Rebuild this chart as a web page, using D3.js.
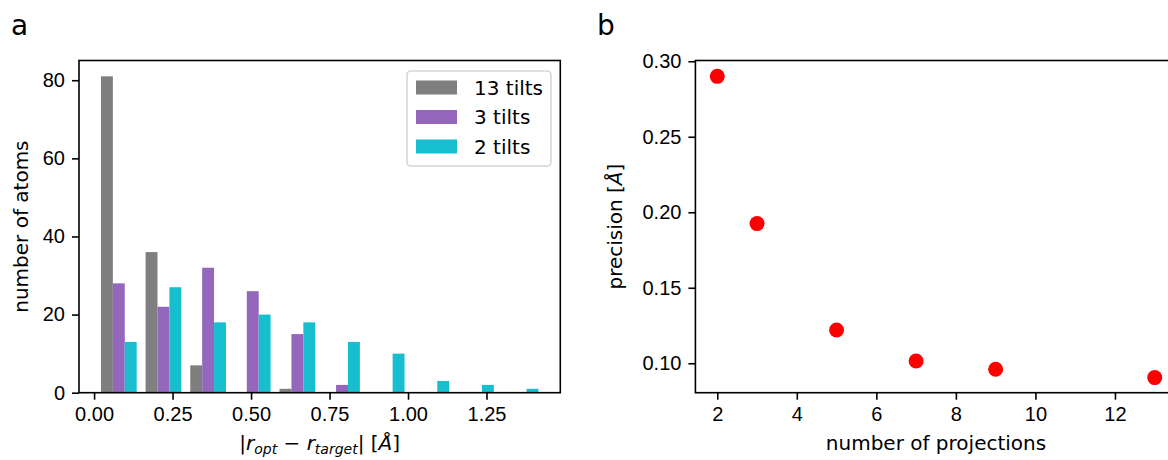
<!DOCTYPE html>
<html>
<head>
<meta charset="utf-8">
<script src="https://cdn.jsdelivr.net/npm/d3@7"></script>
<style>
  body { margin: 0; background: #fff; }
  svg { display: block; font-family: "DejaVu Sans", sans-serif; }
  .axis text { font-size: 20px; fill: #000; }
  .axis path, .axis line { stroke: #000; stroke-width: 1.6px; }
  .lbl { font-size: 20px; fill: #000; }
</style>
</head>
<body>
<div id="chart"></div>
<script>
// data: histogram (panel a)
const binEdges = [0.0077, 0.1499, 0.2921, 0.4343, 0.5765, 0.7187, 0.8609, 1.0031, 1.1453, 1.2875, 1.4297];
const seriesNames = ["13 tilts", "3 tilts", "2 tilts"];
const counts13 = [81, 36, 7, 0, 1, 0, 0, 0, 0, 0];
const counts3 = [28, 22, 32, 26, 15, 2, 0, 0, 0, 0];
const counts2 = [13, 27, 18, 20, 18, 13, 10, 3, 2, 1];
const histTicksX = [0, 0.25, 0.5, 0.75, 1.0, 1.25];
const histTicksY = [0, 20, 40, 60, 80];

// data: precision vs projections (panel b)
const projections = [2, 3, 5, 7, 9, 13];
const precision = [0.290, 0.1925, 0.122, 0.1015, 0.096, 0.0905];
const precTicksX = [2, 4, 6, 8, 10, 12];
const precTicksY = [0.10, 0.15, 0.20, 0.25, 0.30];

const colors = ["#7f7f7f", "#9467bd", "#17becf"];

const W = 1168, H = 460;
const plotTop = 60.5, plotBottom = 392.7;

const svg = d3.select("#chart").append("svg")
    .attr("width", W).attr("height", H);

// ---------- panel a ----------
const ax = { left: 79, right: 560.3 };
const xA = d3.scaleLinear().domain([-0.048, 1.485]).range([ax.left, ax.right]);
const yA = d3.scaleLinear().domain([0, 85.05]).range([plotBottom, plotTop]);

const allCounts = [counts13, counts3, counts2];
const gBars = svg.append("g");
allCounts.forEach((cs, si) => {
    gBars.selectAll(null)
        .data(cs.map((c, i) => ({ c, i })))
        .join("rect")
        .attr("fill", colors[si])
        .attr("x", d => {
            const bw = binEdges[d.i + 1] - binEdges[d.i];
            return xA(binEdges[d.i] + 0.1 * bw + si * 0.8 * bw / 3);
        })
        .attr("width", d => {
            const bw = binEdges[d.i + 1] - binEdges[d.i];
            return xA(0.8 * bw / 3) - xA(0);
        })
        .attr("y", d => yA(d.c))
        .attr("height", d => yA(0) - yA(d.c));
});

svg.append("g").attr("class", "axis")
    .attr("transform", `translate(0,${plotBottom})`)
    .call(d3.axisBottom(xA).tickValues(histTicksX).tickFormat(d3.format(".2f")).tickSize(7).tickPadding(7))
    .call(g => g.select(".domain").remove());
svg.append("g").attr("class", "axis")
    .attr("transform", `translate(${ax.left},0)`)
    .call(d3.axisLeft(yA).tickValues(histTicksY).tickSize(7).tickPadding(7))
    .call(g => g.select(".domain").remove());

svg.append("rect")
    .attr("x", ax.left).attr("y", plotTop)
    .attr("width", ax.right - ax.left).attr("height", plotBottom - plotTop)
    .attr("fill", "none").attr("stroke", "#000").attr("stroke-width", 1.6);

// legend
const leg = svg.append("g");
leg.append("rect")
    .attr("x", 407).attr("y", 71).attr("width", 144).attr("height", 95)
    .attr("rx", 4).attr("fill", "#fff").attr("fill-opacity", 0.8)
    .attr("stroke", "#d6d6d6").attr("stroke-width", 1.6);
seriesNames.forEach((n, i) => {
    const cy = 87.5 + i * 29.5;
    leg.append("rect").attr("x", 416).attr("y", cy - 7).attr("width", 41).attr("height", 14)
        .attr("fill", colors[i]);
    leg.append("text").attr("class", "lbl").attr("x", 474).attr("y", cy + 7).text(n);
});

// axis labels panel a
svg.append("text").attr("class", "lbl")
    .attr("transform", `translate(28,${(plotTop + plotBottom) / 2}) rotate(-90)`)
    .attr("text-anchor", "middle").text("number of atoms");

const xl = svg.append("text").attr("class", "lbl")
    .attr("x", (ax.left + ax.right) / 2).attr("y", 450).attr("text-anchor", "middle");
xl.append("tspan").text("|");
xl.append("tspan").attr("font-style", "italic").text("r");
xl.append("tspan").attr("font-style", "italic").attr("font-size", "14px").attr("dy", 4).text("opt");
xl.append("tspan").attr("dy", -4).text(" − ");
xl.append("tspan").attr("font-style", "italic").text("r");
xl.append("tspan").attr("font-style", "italic").attr("font-size", "14px").attr("dy", 4).text("target");
xl.append("tspan").attr("dy", -4).text("| [");
xl.append("tspan").attr("font-style", "italic").text("Å");
xl.append("tspan").text("]");

// ---------- panel b ----------
const bx = { left: 695.4, right: 1176.6 };
const xB = d3.scaleLinear().domain([1.45, 13.55]).range([bx.left, bx.right]);
const yB = d3.scaleLinear().domain([0.0805, 0.3005]).range([plotBottom, plotTop]);

svg.append("g").attr("class", "axis")
    .attr("transform", `translate(0,${plotBottom})`)
    .call(d3.axisBottom(xB).tickValues(precTicksX).tickFormat(d3.format("d")).tickSize(7).tickPadding(7))
    .call(g => g.select(".domain").remove());
svg.append("g").attr("class", "axis")
    .attr("transform", `translate(${bx.left},0)`)
    .call(d3.axisLeft(yB).tickValues(precTicksY).tickFormat(d3.format(".2f")).tickSize(7).tickPadding(7))
    .call(g => g.select(".domain").remove());

svg.append("rect")
    .attr("x", bx.left).attr("y", plotTop)
    .attr("width", bx.right - bx.left).attr("height", plotBottom - plotTop)
    .attr("fill", "none").attr("stroke", "#000").attr("stroke-width", 1.6);

svg.append("g").selectAll("circle")
    .data(projections.map((p, i) => ({ p, v: precision[i] })))
    .join("circle")
    .attr("cx", d => xB(d.p)).attr("cy", d => yB(d.v))
    .attr("r", 7.5).attr("fill", "#ff0000");

const yl = svg.append("text").attr("class", "lbl")
    .attr("transform", `translate(622,${(plotTop + plotBottom) / 2}) rotate(-90)`)
    .attr("text-anchor", "middle");
yl.append("tspan").text("precision [");
yl.append("tspan").attr("font-style", "italic").text("Å");
yl.append("tspan").text("]");

svg.append("text").attr("class", "lbl")
    .attr("x", (bx.left + bx.right) / 2).attr("y", 450).attr("text-anchor", "middle")
    .text("number of projections");

// panel letters
svg.append("text").attr("x", 11).attr("y", 35).attr("font-size", "28px").text("a");
svg.append("text").attr("x", 597).attr("y", 35).attr("font-size", "28px").text("b");
</script>
</body>
</html>
